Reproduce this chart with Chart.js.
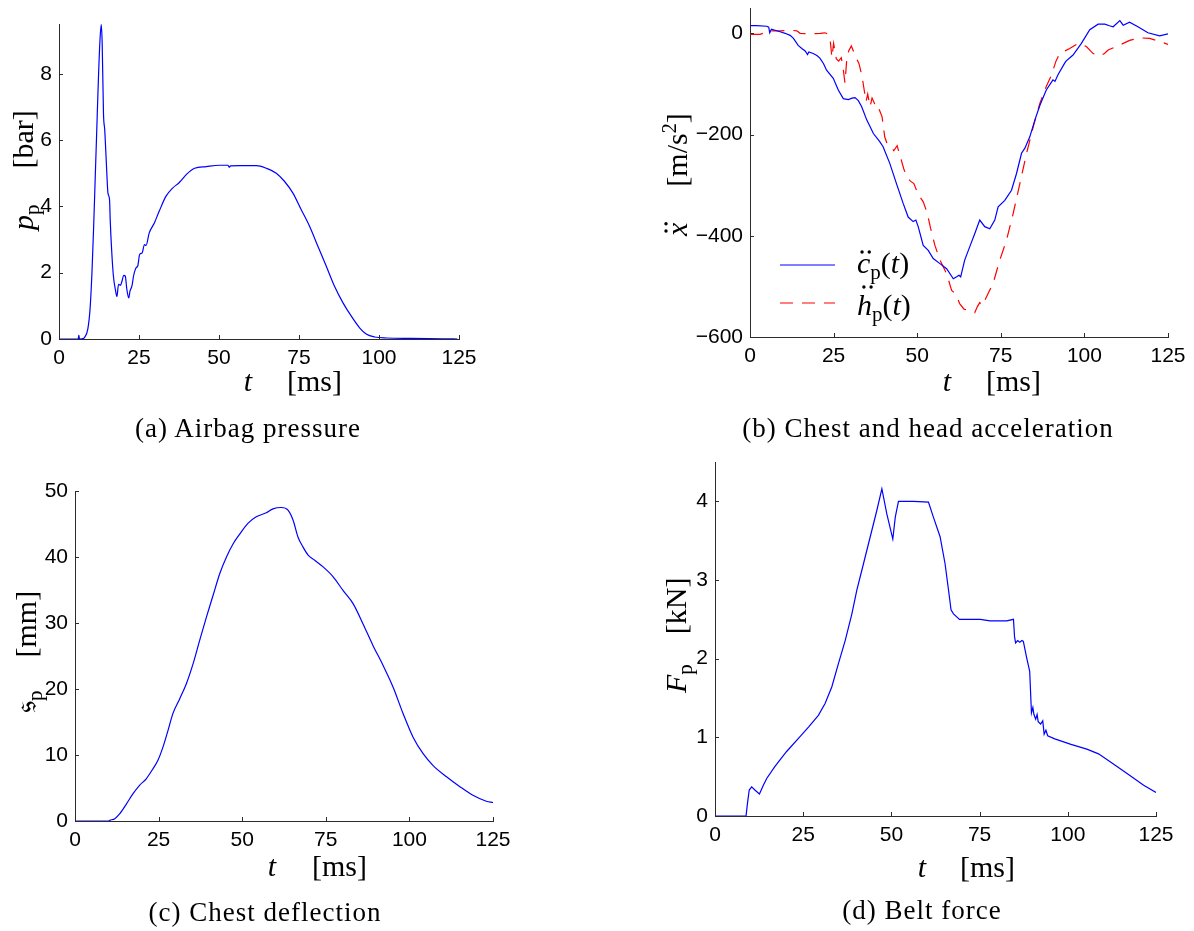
<!DOCTYPE html>
<html>
<head>
<meta charset="utf-8">
<script src="https://cdn.jsdelivr.net/npm/chart.js@4.4.1/dist/chart.umd.min.js"></script>
<style>
  html, body { margin: 0; padding: 0; background: #fff; }
  body { width: 1194px; height: 931px; position: relative; overflow: hidden; }
  canvas { position: absolute; }
  .cap {
    position: absolute; width: 420px; text-align: center; white-space: nowrap;
    font: 27px "Liberation Serif", serif; letter-spacing: 1px; line-height: 27px; color: #000;
  }
</style>
</head>
<body>
<canvas id="cA" width="597" height="465" style="left:0;top:0"></canvas>
<canvas id="cB" width="597" height="465" style="left:597px;top:0"></canvas>
<canvas id="cC" width="597" height="491" style="left:0;top:440px"></canvas>
<canvas id="cD" width="597" height="491" style="left:597px;top:440px"></canvas>
<div class="cap" style="left:38px;top:415px">(a) Airbag pressure</div>
<div class="cap" style="left:718px;top:415px">(b) Chest and head acceleration</div>
<div class="cap" style="left:55px;top:899px">(c) Chest deflection</div>
<div class="cap" style="left:712px;top:897px">(d) Belt force</div>
<script>
// ---- time axis ----
const timeTicks = [0, 25, 50, 75, 100, 125];

// ---- (a) airbag pressure [bar] ----
const tPressure = [0, 6.0, 6.2, 6.4, 7.5, 8, 9, 9.7, 10.3, 10.8, 11.3, 11.8, 12.3, 12.8, 13.2, 13.5, 13.9, 14.3,
  14.8, 15.3, 15.8, 16.0, 16.5, 17.0, 17.6, 18.1, 18.6, 19.2, 19.7, 20.2, 20.7, 21.2, 21.8, 22.2, 22.8, 23.3,
  24.1, 24.6, 25.2, 26.0, 26.7, 27.2, 28.2, 29.8, 31.3, 33.4, 35.5, 37.6, 40, 42.4, 46, 50.2, 52.8, 53.2, 53.6,
  56.5, 61.7, 64.8, 67.9, 70.5, 73.1, 75.7, 78.3, 80.9, 83.5, 86.1, 88.75, 91.4, 94, 96, 98.6, 102.3, 110, 120, 124.5];
const pressure = [0, 0, 0.12, 0, 0.01, 0.05, 0.3, 0.9, 2.0, 3.3, 4.8, 6.3, 7.8, 9.0, 9.48, 8.9, 6.8, 6.3,
  5.3, 4.4, 4.2, 3.6, 2.6, 1.9, 1.5, 1.28, 1.65, 1.62, 1.75, 1.92, 1.9, 1.5, 1.24, 1.45, 1.6, 1.9,
  2.15, 2.2, 2.55, 2.6, 2.85, 2.82, 3.2, 3.5, 3.85, 4.3, 4.55, 4.72, 4.98, 5.15, 5.2, 5.24, 5.24, 5.18, 5.22,
  5.23, 5.23, 5.15, 5.0, 4.75, 4.4, 3.9, 3.4, 2.8, 2.2, 1.59, 1.09, 0.68, 0.33, 0.15, 0.06, 0.03, 0.02, 0.005, 0];
const pressureTicks = [0, 2, 4, 6, 8];

// ---- (b) chest and head acceleration [m/s^2] ----
const tChest = [0, 2, 5, 5.6, 5.9, 6.4, 8, 9, 10.5, 12, 13, 14.4, 15.5, 16.5, 17.2, 17.6, 18.9, 20, 20.9, 22,
  22.9, 24.9, 26.4, 27.9, 29.4, 30.5, 31.4, 32.4, 33.4, 34.9, 36.9, 38.8, 39.8, 41.8, 43.8, 45.8, 47.3, 48.8,
  49.6, 50.3, 51.8, 53.3, 54.8, 56.8, 58.8, 60.8, 61.8, 62.5, 63.0, 64.2, 65.7, 67.2, 68.7, 70.2, 71.7, 73.2,
  74.2, 76.2, 78.2, 79.7, 81.2, 82.2, 83.7, 85.2, 86.7, 88.6, 90.6, 91.2, 92.1, 94.1, 94.5, 96.6, 99.1, 101.6,
  104.1, 106.1, 107.5, 108.6, 110.6, 111.6, 113.5, 116, 119, 122.5, 125];
const chestAcc = [15, 15, 14, 12, 1, 8, 5, 3, 0, -4, -10, -24, -30, -35, -42, -37, -40, -44, -49, -60,
  -73, -89, -112, -129, -131, -128, -127, -133, -145, -171, -198, -214, -224, -257, -297, -336, -363, -372,
  -369, -382, -419, -429, -445, -455, -465, -485, -481, -478, -481, -448, -422, -396, -369, -382, -386, -369,
  -343, -330, -310, -277, -237, -227, -204, -171, -142, -112, -92, -95, -82, -59, -55, -43, -20, 7,
  18, 18, 15, 13, 25, 16, 22, 13, 1, -5, -1];
const tHead = [0, 3, 6, 9, 12, 14, 15, 18, 21, 22.4, 23.5, 24, 24.5, 25, 25.8, 26.5, 27.3, 27.9, 28.4, 28.9,
  29.5, 30.3, 30.8, 31.5, 32.6, 33.5, 34.1, 34.7, 35.2, 35.9, 36.5, 37.2, 37.8, 38.5, 39.5, 40.3, 41, 42, 43,
  44, 45, 46, 47, 48, 49, 50.3, 51.8, 53, 54, 55.3, 56.8, 58.8, 60.3, 61.5, 62.7, 64, 65.5, 67.2, 68, 68.7,
  69.5, 70.7, 72.7, 74.7, 76.7, 78.7, 80.7, 82.7, 84.7, 86.7, 88.6, 90, 91.5, 92.6, 95.6, 98.1, 100.6, 102.6,
  104.6, 106, 107.1, 110.6, 113.5, 116.5, 119.5, 122.5, 125];
const headAcc = [-2, -2, 5, 5, 6, 5, 0, -1, 0, 1, -2, -15, -48, -20, -50, -55, -48, -72, -98, -55,
  -35, -25, -33, -45, -60, -85, -110, -135, -120, -145, -128, -138, -150, -148, -165, -205, -218, -222, -232,
  -222, -245, -268, -285, -292, -297, -318, -333, -355, -385, -419, -448, -475, -508, -515, -534, -545, -548, -552, -540, -532,
  -538, -521, -494, -448, -409, -356, -297, -237, -185, -138, -105, -85, -55, -40, -30, -20, -26, -40,
  -45, -40, -33, -23, -14, -9, -10, -16, -22];
const accTicks = [-600, -400, -200, 0];

// ---- (c) chest deflection [mm] ----
const tDeflection = [0, 10, 10.4, 11.9, 13.4, 15.4, 17.3, 19.3, 21.3, 23.3, 24.8, 26.3, 27.8, 29.3, 31.3, 33.3,
  35.3, 37.3, 39.3, 41.3, 43.3, 45.3, 47.3, 49.3, 51.7, 54.2, 57.2, 59.2, 61.7, 63.7, 65.2, 66.7, 68.2, 69.7,
  71.7, 74.2, 77.2, 80.2, 83.2, 86.1, 89.1, 92.1, 95.1, 98.1, 101.1, 104.1, 107.1, 111.1, 115.1, 119.0, 123.0, 125];
const deflection = [0, 0, 0.1, 0.35, 1.1, 2.6, 4.1, 5.4, 6.4, 7.9, 9.2, 11.2, 13.7, 16.3, 18.5, 20.8,
  23.8, 27.4, 30.9, 34.2, 37.5, 40.0, 42.0, 43.5, 45.1, 46.1, 46.7, 47.3, 47.5, 47.1, 45.6, 43.0, 41.5, 40.3,
  39.5, 38.5, 37.0, 34.9, 32.9, 29.9, 26.6, 23.6, 20.3, 16.3, 12.7, 10.2, 8.4, 6.7, 5.2, 3.9, 3.0, 2.8];
const deflectionTicks = [0, 10, 20, 30, 40, 50];

// ---- (d) belt force [kN] ----
const tBelt = [0, 8.8, 9.2, 9.7, 10.4, 11.3, 12.6, 13.7, 14.7, 17.0, 20.3, 24.1, 26.5, 29.3, 31.2, 33.1, 35.0,
  36.9, 38.8, 40.2, 42.1, 44.0, 45.9, 47.3, 48.7, 50.4, 51.1, 52.0, 56.3, 60.5, 61.9, 63.8, 65.2, 66.2, 66.9,
  67.6, 69.3, 75.2, 78.0, 82.7, 84.6, 84.9, 85.2, 85.8, 86.4, 87.0, 87.4, 88.3, 89.2, 89.7, 90.1, 90.4, 90.9,
  91.3, 91.6, 92.3, 92.9, 93.3, 93.8, 94.3, 96.3, 100.9, 105.4, 108.7, 112.0, 116.8, 121.5, 125];
const beltForce = [0, 0, 0.16, 0.33, 0.37, 0.33, 0.28, 0.39, 0.48, 0.63, 0.82, 1.01, 1.13, 1.28, 1.43, 1.64, 1.94,
  2.23, 2.57, 2.87, 3.21, 3.55, 3.89, 4.16, 3.84, 3.52, 3.80, 4.0, 4.0, 3.99, 3.80, 3.55, 3.21, 2.87, 2.62,
  2.57, 2.50, 2.50, 2.48, 2.48, 2.50, 2.28, 2.20, 2.23, 2.21, 2.23, 2.22, 2.02, 1.84, 1.31, 1.38, 1.29, 1.23,
  1.29, 1.20, 1.17, 1.21, 1.04, 1.09, 1.02, 0.98, 0.91, 0.85, 0.79, 0.69, 0.54, 0.39, 0.30];
const forceTicks = [0, 1, 2, 3, 4];

// ---- drawing helpers ----
Chart.defaults.font.family = '"Liberation Sans", Arial, sans-serif';
Chart.defaults.font.size = 21;
Chart.defaults.color = '#000';

const AXIS = '#2b2b2b';
const TICK_LEN = 4;
const X_AXIS_H = 40;
const SERIF = '"Liberation Serif", "DejaVu Serif", serif';
const R = (t, s = 30) => ({ t, f: `${s}px ${SERIF}` });
const I = (t, s = 30) => ({ t, f: `italic ${s}px ${SERIF}` });
const SUB = t => ({ t, f: `21px ${SERIF}`, dy: 6 });
const SUP = t => ({ t, f: `20px ${SERIF}`, dy: -11 });
const GAP = w => ({ gap: w });
const DOTS = (h, dx = 2) => ({ dots: { h, dx } });

const zip = (xs, ys) => xs.map((x, i) => ({ x, y: ys[i] }));

function runsWidth(ctx, runs) {
  let w = 0;
  for (const r of runs) {
    if (r.gap) { w += r.gap; continue; }
    if (r.dots) continue;
    ctx.font = r.f; w += ctx.measureText(r.t).width;
  }
  return w;
}

function drawRuns(ctx, runs, x0, y0) {
  let x = x0, prevX = x0, prevW = 0;
  ctx.textAlign = 'left';
  ctx.textBaseline = 'alphabetic';
  ctx.fillStyle = '#000';
  for (const r of runs) {
    if (r.gap) { x += r.gap; continue; }
    if (r.dots) {
      const cx = prevX + prevW / 2 + r.dots.dx, cy = y0 - r.dots.h;
      for (const off of [-3.6, 3.6]) {
        ctx.beginPath(); ctx.arc(cx + off, cy, 1.7, 0, Math.PI * 2); ctx.fill();
      }
      continue;
    }
    ctx.font = r.f;
    ctx.fillText(r.t, x, y0 + (r.dy || 0));
    prevX = x; prevW = ctx.measureText(r.t).width;
    x += prevW;
  }
}

function drawInwardTicks(chart) {
  const { ctx, chartArea: a, scales: { x, y } } = chart;
  ctx.save();
  ctx.strokeStyle = AXIS; ctx.lineWidth = 1;
  ctx.beginPath();
  for (const t of x.ticks) {
    const px = Math.round(x.getPixelForValue(t.value)) + 0.5;
    ctx.moveTo(px, a.bottom); ctx.lineTo(px, a.bottom - TICK_LEN);
  }
  for (const t of y.ticks) {
    const py = Math.round(y.getPixelForValue(t.value)) + 0.5;
    ctx.moveTo(a.left, py); ctx.lineTo(a.left + TICK_LEN, py);
  }
  ctx.stroke();
  ctx.restore();
}

function zeroPad(s) { s.paddingLeft = s.paddingRight = s.paddingTop = s.paddingBottom = 0; }

function panel(id, area, yRange, yTicks, datasets, deco) {
  const cv = document.getElementById(id);
  const W = cv.width, H = cv.height;
  return new Chart(cv, {
    type: 'line',
    data: { datasets },
    options: {
      responsive: false, animation: false, events: [],
      layout: { padding: { left: 0, top: area.top, right: W - area.right, bottom: H - area.bottom - X_AXIS_H } },
      plugins: { legend: { display: false }, tooltip: { enabled: false } },
      elements: { point: { radius: 0 }, line: { borderWidth: 1.2, tension: 0 } },
      scales: {
        x: {
          type: 'linear', min: 0, max: 125,
          grid: { display: false, drawTicks: false },
          border: { display: true, color: AXIS, width: 1 },
          ticks: { padding: 7, autoSkip: false, maxRotation: 0, color: '#000' },
          afterBuildTicks: s => { s.ticks = timeTicks.map(v => ({ value: v })); },
          afterFit: s => { s.height = X_AXIS_H; zeroPad(s); }
        },
        y: {
          type: 'linear', min: yRange[0], max: yRange[1],
          grid: { display: false, drawTicks: false },
          border: { display: true, color: AXIS, width: 1 },
          ticks: { padding: 7, color: '#000', callback: v => String(v).replace('-', '\u2212') },
          afterBuildTicks: s => { s.ticks = yTicks.map(v => ({ value: v })); },
          afterFit: s => { s.width = area.left; zeroPad(s); }
        }
      }
    },
    plugins: [{
      id: 'decor',
      afterDraw(chart) {
        const ctx = chart.ctx;
        drawInwardTicks(chart);
        ctx.save();
        // x-axis title: t  [ms]
        const tRun = [I('t')];
        drawRuns(ctx, tRun, deco.xt.tx - runsWidth(ctx, tRun) / 2, deco.xt.base);
        drawRuns(ctx, [R('[ms]')], deco.xt.ux, deco.xt.base);
        // y-axis title, rotated, read bottom to top
        ctx.translate(deco.yt.x, deco.yt.y);
        ctx.rotate(-Math.PI / 2);
        drawRuns(ctx, deco.yt.runs, 0, 0);
        ctx.restore();
        if (deco.legend) {
          ctx.save();
          chart.data.datasets.forEach((ds, i) => {
            const L = deco.legend[i];
            ctx.strokeStyle = ds.borderColor; ctx.lineWidth = ds.borderWidth || 1.2;
            ctx.setLineDash(ds.borderDash || []);
            ctx.beginPath(); ctx.moveTo(L.x1, L.y); ctx.lineTo(L.x2, L.y); ctx.stroke();
            ctx.setLineDash([]);
            drawRuns(ctx, L.runs, L.tx, L.base);
          });
          ctx.restore();
        }
      }
    }]
  });
}

const BLUE = '#0000ff', RED = '#ff0000';

panel('cA', { left: 59, top: 24, right: 459, bottom: 339 }, [0, 9.5], pressureTicks,
  [{ data: zip(tPressure, pressure), borderColor: BLUE, borderWidth: 1.2, cubicInterpolationMode: 'monotone' }],
  { xt: { tx: 248, ux: 287, base: 391 },
    yt: { x: 33, y: 230, runs: [I('p'), SUB('p'), GAP(36), R('[bar]')] } });

panel('cB', { left: 153, top: 8, right: 571, bottom: 337 }, [-600, 50], accTicks,
  [{ data: zip(tChest, chestAcc), borderColor: BLUE, borderWidth: 1.2 },
   { data: zip(tHead, headAcc), borderColor: RED, borderWidth: 1.2, borderDash: [13, 9] }],
  { xt: { tx: 350, ux: 389, base: 391 },
    yt: { x: 90, y: 236, runs: [I('x'), DOTS(21, 2), GAP(36), R('[m/s'), SUP('2'), R(']')] },
    legend: [
      { x1: 183, x2: 238, y: 265, tx: 260, base: 273, runs: [I('c'), DOTS(21, 2), SUB('p'), R('('), I('t'), R(')')] },
      { x1: 183, x2: 238, y: 303, tx: 260, base: 315, runs: [I('h'), DOTS(28, 3), SUB('p'), R('('), I('t'), R(')')] }
    ] });

panel('cC', { left: 75, top: 51, right: 493, bottom: 381 }, [0, 50], deflectionTicks,
  [{ data: zip(tDeflection, deflection), borderColor: BLUE, borderWidth: 1.2, cubicInterpolationMode: 'monotone' }],
  { xt: { tx: 272, ux: 312, base: 436 },
    yt: { x: 35.5, y: 273, runs: [R('\u{1D530}', 32), SUB('p'), GAP(33), R('[mm]')] } });

panel('cD', { left: 118, top: 22, right: 559, bottom: 376 }, [0, 4.5], forceTicks,
  [{ data: zip(tBelt, beltForce), borderColor: BLUE, borderWidth: 1.2 }],
  { xt: { tx: 325, ux: 363, base: 436.6 },
    yt: { x: 89, y: 253, runs: [I('F'), SUB('p'), GAP(30), R('[kN]')] } });
</script>
</body>
</html>
